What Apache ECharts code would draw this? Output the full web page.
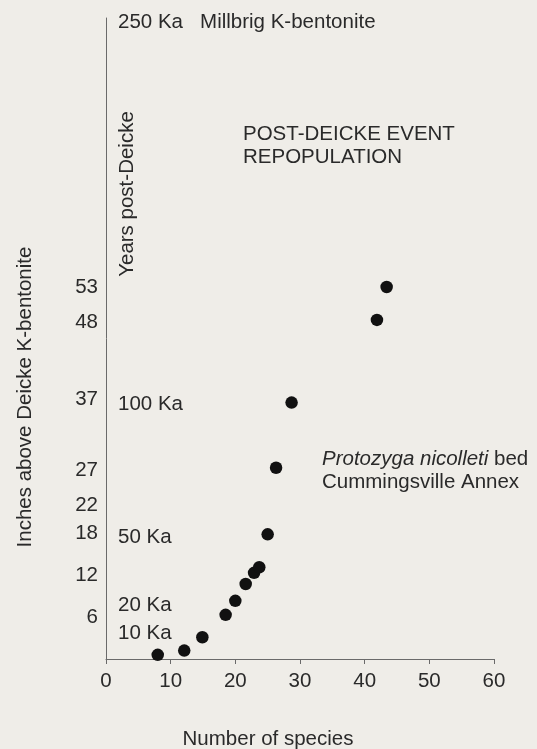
<!DOCTYPE html>
<html>
<head>
<meta charset="utf-8">
<script src="https://cdn.jsdelivr.net/npm/echarts@6/dist/echarts.min.js"></script>
<style>
  html, body { margin: 0; padding: 0; background: #efede8; }
  #chart { width: 537px; height: 749px; }
</style>
</head>
<body>
<div id="chart"></div>
<script>
// Species richness against stratigraphic height above the Deicke K-bentonite
const speciesCounts = [8.0, 12.1, 14.9, 18.5, 20.0, 21.6, 22.9, 23.7, 25.0, 26.3, 28.7, 41.9, 43.4];
const heightsInches = [0.6, 1.2, 3.1, 6.3, 8.3, 10.7, 12.3, 13.1, 17.8, 27.3, 36.6, 48.4, 53.1];

// Sampled horizons listed along the height axis
const heightTicks = [6, 12, 18, 22, 27, 37, 48, 53];

// Elapsed time after the ash fall, placed at its height
const ageTickHeights = [3.7, 7.7, 17.4, 36.3, 90.9];
const ageTickLabels = ['10 Ka', '20 Ka', '50 Ka', '100 Ka', '250 Ka   Millbrig K-bentonite'];

// Species axis
const speciesMin = 0, speciesMax = 60, speciesStep = 10;
const heightMax = 91.5;

const FONT = '"Liberation Sans", Arial, Helvetica, sans-serif';
const FS = 20.5;
const INK = '#2a2a2a';
const AXIS = '#6a6a6a';

const chart = echarts.init(document.getElementById('chart'), null, { renderer: 'canvas' });

const points = speciesCounts.map((s, i) => [s, heightsInches[i]]);

chart.setOption({
  backgroundColor: '#efede8',
  animation: false,
  textStyle: { fontFamily: FONT, color: INK },
  grid: { left: 106, right: 43, top: 18, bottom: 90, containLabel: false },
  xAxis: {
    type: 'value',
    min: speciesMin,
    max: speciesMax,
    interval: speciesStep,
    axisLine: { show: true, lineStyle: { color: AXIS, width: 1 } },
    axisTick: { show: true, inside: false, length: 5, lineStyle: { color: AXIS } },
    axisLabel: { fontSize: FS, color: INK, fontFamily: FONT, margin: 12 },
    splitLine: { show: false }
  },
  yAxis: [
    {
      type: 'value',
      min: 0,
      max: heightMax,
      position: 'left',
      axisLine: { show: true, onZero: false, lineStyle: { color: AXIS, width: 1 } },
      axisTick: { show: false },
      axisLabel: {
        customValues: heightTicks,
        fontSize: FS, color: INK, fontFamily: FONT, margin: 8
      },
      splitLine: { show: false }
    },
    {
      type: 'value',
      min: 0,
      max: heightMax,
      position: 'left',
      axisLine: { show: false },
      axisTick: { show: false },
      axisLabel: {
        inside: true,
        customValues: ageTickHeights,
        margin: 12,
        fontSize: FS, color: INK, fontFamily: FONT,
        formatter: (v) => {
          const i = ageTickHeights.indexOf(v);
          return i >= 0 ? ageTickLabels[i] : '';
        }
      },
      splitLine: { show: false }
    }
  ],
  series: [{
    type: 'scatter',
    data: points,
    symbol: 'circle',
    symbolSize: 12.5,
    itemStyle: { color: '#111111', opacity: 1 },
    yAxisIndex: 0
  }],
  graphic: [
    {
      type: 'text', x: 25, y: 397, rotation: Math.PI / 2,
      style: { text: 'Inches above Deicke K-bentonite', font: FS + 'px ' + FONT, fill: INK, align: 'center', verticalAlign: 'middle' }
    },
    {
      type: 'text', x: 127, y: 194, rotation: Math.PI / 2,
      style: { text: 'Years post-Deicke', font: FS + 'px ' + FONT, fill: INK, align: 'center', verticalAlign: 'middle' }
    },
    {
      type: 'text', x: 268, y: 739,
      style: { text: 'Number of species', font: FS + 'px ' + FONT, fill: INK, align: 'center', verticalAlign: 'middle' }
    },
    {
      type: 'text', x: 243, y: 134,
      style: { text: 'POST-DEICKE EVENT', font: FS + 'px ' + FONT, fill: INK, align: 'left', verticalAlign: 'middle' }
    },
    {
      type: 'text', x: 243, y: 157,
      style: { text: 'REPOPULATION', font: FS + 'px ' + FONT, fill: INK, align: 'left', verticalAlign: 'middle' }
    },
    {
      type: 'text', x: 322, y: 459,
      style: {
        text: '{i|Protozyga nicolleti} bed',
        font: FS + 'px ' + FONT, fill: INK, align: 'left', verticalAlign: 'middle',
        rich: { i: { fontStyle: 'italic', fontSize: FS, fontFamily: FONT, fill: INK } }
      }
    },
    {
      type: 'text', x: 322, y: 482,
      style: { text: 'Cummingsville Annex', font: FS + 'px ' + FONT, fill: INK, align: 'left', verticalAlign: 'middle' }
    }
  ]
});
</script>
</body>
</html>
